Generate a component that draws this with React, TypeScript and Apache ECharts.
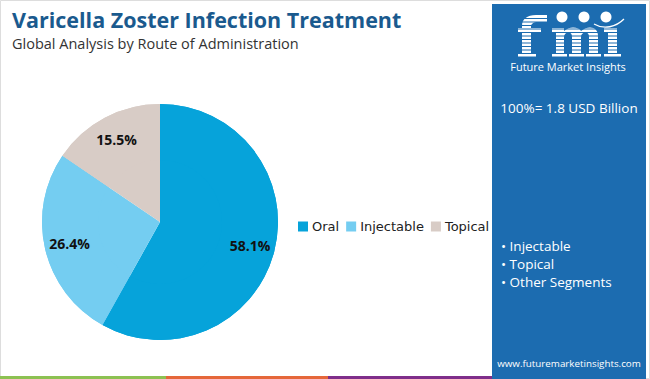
import React, { useEffect, useRef } from "react";
import * as echarts from "echarts";

const categories = ["Oral", "Injectable", "Topical"];
const shares = [58.1, 26.4, 15.5];
const sliceColors = ["#06a3da", "#74cdf1", "#d8ccc6"];
const titleText = "Varicella Zoster Infection Treatment";
const subtitleText = "Global Analysis by Route of Administration";
const totalText = "100%= 1.8 USD Billion";
const otherSegments = ["• Injectable", "• Topical", "• Other Segments"];
const siteText = "www.futuremarketinsights.com";
const brandText = "Future Market Insights";

const PANEL = "#1c6cb0";

const LOGO_D =
  "M518 57 L518 53 L522 53 L522 33 L518 33 L518 28 L522 28 L522 26 C522 19 527 15 536 15 L547 15 L547 22 L538 22 C533 22 531 24 531 27 L531 28 L541 28 L541 33 L531 33 L531 53 L536 53 L536 57 Z " +
  "M552 57 L552 53 L556 53 L556 32 L552 32 L552 28 L564 28 L564 31 C567 28.5 570 27.5 573 27.5 C577 27.5 580 29 581 31 C584 28.5 587 27.5 590 27.5 C595 27.5 598 30.5 598 36 L598 53 L601 53 L601 57 L586 57 L586 53 L589 53 L589 37 C589 34 588 32.5 585.5 32.5 C583 32.5 581 34 581 37 L581 53 L584 53 L584 57 L569 57 L569 53 L572 53 L572 37 C572 34 571 32.5 568.5 32.5 C566 32.5 564 34.5 564 37 L564 53 L567 53 L567 57 Z " +
  "M604 57 L604 53 L608 53 L608 32 L604 32 L604 28 L617 28 L617 53 L621 53 L621 57 Z";

try {
  echarts.graphic.registerShape("fmiLogo", echarts.graphic.extendPath(LOGO_D, {}));
} catch (e) {}

export default function App() {
  const ref = useRef<HTMLDivElement>(null);
  useEffect(() => {
    if (!ref.current) return;
    const chart = echarts.init(ref.current, null, { renderer: "svg" });
    const data = categories.map((name, i) => ({
      name,
      value: shares[i],
      itemStyle: { color: sliceColors[i] },
    }));

    const stripes: any[] = [];
    for (let i = 0; i < 12; i++) {
      stripes.push({
        type: "rect",
        shape: { x: 512, y: 18 + i * 3.5, width: 115, height: 1.1 },
        style: { fill: PANEL },
        z: 20,
      });
    }

    const option: any = {
      animation: false,
      backgroundColor: "#ffffff",
      title: [
        {
          text: titleText,
          left: 7,
          top: 3,
          textStyle: { fontFamily: "Open Sans", fontWeight: "bold", fontSize: 21.5, color: "#1a5a8e" },
        },
        {
          text: subtitleText,
          left: 7,
          top: 31,
          textStyle: { fontFamily: "Open Sans", fontWeight: "normal", fontSize: 14.5, color: "#333333" },
        },
      ],
      legend: {
        data: categories,
        left: 293,
        top: 215,
        itemWidth: 10,
        itemHeight: 10,
        itemGap: 7,
        icon: "rect",
        textStyle: { fontFamily: "DejaVu Sans", fontSize: 13, color: "#222222", padding: [0, 0, 0, -1] },
      },
      series: [
        {
          type: "pie",
          center: [160, 222],
          radius: [0, 118],
          startAngle: 90,
          clockwise: true,
          silent: true,
          label: { show: false },
          labelLine: { show: false },
          data,
          z: 1,
        },
        {
          type: "pie",
          center: [160, 222],
          radius: [62, 118],
          startAngle: 90,
          clockwise: true,
          silent: true,
          label: {
            show: true,
            position: "inside",
            formatter: (p: any) => p.value.toFixed(1) + "%",
            fontFamily: "Open Sans",
            fontWeight: "bold",
            fontSize: 14,
            color: "#111111",
          },
          labelLine: { show: false },
          data,
          z: 2,
        },
      ],
      graphic: [
        { type: "rect", shape: { x: 0.5, y: 0.5, width: 649, height: 378 }, style: { fill: "none", stroke: "#dddddd", lineWidth: 1 }, z: 0 },
        {
          type: "line",
          shape: { x1: 5, y1: 74.5, x2: 488, y2: 74.5 },
          style: {
            stroke: new echarts.graphic.LinearGradient(0, 0, 1, 0, [
              { offset: 0, color: "#2a6fae" },
              { offset: 0.5, color: "#5a95c8" },
              { offset: 1, color: "#2a6fae" },
            ]),
            lineWidth: 2,
          },
        },
        { type: "rect", shape: { x: 0, y: 376, width: 166, height: 3 }, style: { fill: "#8cc152" } },
        { type: "rect", shape: { x: 166, y: 376, width: 162, height: 3 }, style: { fill: "#e5673a" } },
        { type: "rect", shape: { x: 328, y: 376, width: 164, height: 3 }, style: { fill: "#7f2e8a" } },
        { type: "rect", shape: { x: 492, y: 4, width: 154, height: 375 }, style: { fill: PANEL }, z: 5 },
        { type: "fmiLogo", x: 0, y: 0, style: { fill: "#ffffff" }, z: 10 },
        ...stripes,
        { type: "circle", shape: { cx: 562, cy: 17, r: 5.5 }, style: { fill: "#ffffff" }, z: 30 },
        { type: "circle", shape: { cx: 584, cy: 17, r: 5.5 }, style: { fill: "#ffffff" }, z: 30 },
        { type: "circle", shape: { cx: 606, cy: 17, r: 5.5 }, style: { fill: "#ffffff" }, z: 30 },
        {
          type: "bezierCurve",
          shape: { x1: 594, y1: 24, cpx1: 604, cpy1: 30, cpx2: 616, cpy2: 27, x2: 624, y2: 19 },
          style: { stroke: "#ffffff", lineWidth: 1.3, fill: "none" },
          z: 30,
        },
        {
          type: "text",
          x: 568,
          y: 66,
          style: { text: brandText, fontFamily: "Open Sans", fontSize: 11, fill: "#ffffff", textAlign: "center", textVerticalAlign: "middle" },
          z: 30,
        },
        {
          type: "text",
          x: 569,
          y: 108,
          style: { text: totalText, fontFamily: "Open Sans", fontSize: 13.5, fill: "#ffffff", textAlign: "center", textVerticalAlign: "middle" },
          z: 30,
        },
        ...otherSegments.map((t, i) => ({
          type: "text",
          x: 501,
          y: 246 + i * 18,
          style: { text: t, fontFamily: "Open Sans", fontSize: 13.5, fill: "#ffffff", textAlign: "left", textVerticalAlign: "middle" },
          z: 30,
        })),
        {
          type: "text",
          x: 569,
          y: 363,
          style: { text: siteText, fontFamily: "Open Sans", fontSize: 9.8, fill: "#ffffff", textAlign: "center", textVerticalAlign: "middle" },
          z: 30,
        },
      ],
    };
    chart.setOption(option);
    return () => chart.dispose();
  }, []);
  return <div ref={ref} style={{ position: "fixed", left: 0, top: 0, width: 650, height: 379 }} />;
}
